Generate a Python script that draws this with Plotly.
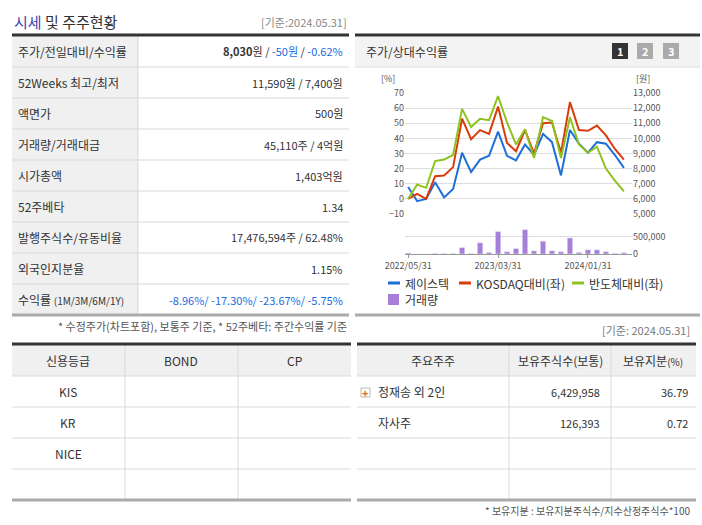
import plotly.graph_objects as go

W, H = 702, 525
FONT = "Noto Sans CJK KR"

# chart data (monthly, 2022/05 ~ 2024/05)
months = ["2022/05/31", "2022/06/30", "2022/07/31", "2022/08/31", "2022/09/30", "2022/10/31",
          "2022/11/30", "2022/12/31", "2023/01/31", "2023/02/28", "2023/03/31", "2023/04/30",
          "2023/05/31", "2023/06/30", "2023/07/31", "2023/08/31", "2023/09/30", "2023/10/31",
          "2023/11/30", "2023/12/31", "2024/01/31", "2024/02/29", "2024/03/31", "2024/04/30",
          "2024/05/31"]
jstek = [7.8, -1.5, 0, 11, 1, 6.5, 30.5, 17.7, 26, 28.5, 44.5, 28.5, 25.5, 36, 29, 43,
         37.5, 15.5, 45.5, 36.5, 30.5, 37.5, 36.5, 29, 20.5]
kosdaq = [0, 3.3, 0, 15, 15.5, 21, 53, 39.5, 45.5, 43, 61, 37, 31.5, 45.5, 30, 50,
          50.5, 30.5, 64, 45.5, 45, 48.5, 42, 33, 26]
semi = [0, 9.5, 7.3, 25, 26, 29, 59.5, 47.5, 53, 52, 68, 50.5, 36, 46, 27, 54,
        51.5, 27, 54, 36, 30.5, 34.5, 20, 12, 5]
volume = [28000, 0, 0, 15000, 15000, 15000, 189000, 15000, 330000, 47000, 660000, 66000,
          160000, 717000, 94000, 377000, 94000, 66000, 472000, 47000, 123000, 123000,
          66000, 19000, 38000]
date_ticks = ["2022/05/31", "2023/03/31", "2024/01/31"]

# table data
info_labels = ["주가/전일대비/수익률", "52Weeks 최고/최저", "액면가", "거래량/거래대금", "시가총액",
               "52주베타", "발행주식수/유동비율", "외국인지분율",
               "수익률 <span style='font-size:10px'>(1M/3M/6M/1Y)</span>"]
info_values = ["<b>8,030</b>원 / <span style='color:#1a6be0'>-50원</span> / <span style='color:#1a6be0'>-0.62%</span>",
               "11,590원 / 7,400원", "500원", "45,110주 / 4억원", "1,403억원", "1.34",
               "17,476,594주 / 62.48%", "1.15%",
               "<span style='color:#1a6be0'>-8.96%/ -17.30%/ -23.67%/ -5.75%</span>"]
credit_cols = ["신용등급", "BOND", "CP"]
credit_rows = ["KIS", "KR", "NICE", ""]
holder_cols = ["주요주주", "보유주식수(보통)", "보유지분<span style='font-size:10px'>(%)</span>"]
holders = ["정재송 외 2인", "자사주"]
holder_shares = ["6,429,958", "126,393"]
holder_pct = ["36.79", "0.72"]


def X(px):
    return px / W


def Y(py):
    return 1 - py / H


shapes = []
ann = []


def line(x0, y0, x1, y1, color="#d9d9d9", width=1):
    shapes.append(dict(type="line", xref="paper", yref="paper", x0=X(x0), y0=Y(y0),
                       x1=X(x1), y1=Y(y1), line=dict(color=color, width=width)))


def rect(x0, y0, x1, y1, fill, lc=None):
    shapes.append(dict(type="rect", xref="paper", yref="paper", x0=X(x0), y0=Y(y0),
                       x1=X(x1), y1=Y(y1), fillcolor=fill, layer="below",
                       line=dict(width=1 if lc else 0, color=lc or fill)))


def text(x, y, s, size=12, color="#333", anchor="left"):
    ann.append(dict(xref="paper", yref="paper", x=X(x), y=Y(y), text=s, showarrow=False,
                    xanchor=anchor, yanchor="middle", font=dict(family=FONT, size=size, color=color)))


# ---- left info table
text(12, 21, "<span style='color:#3b48b0'>시세</span> 및 주주현황", size=15, color="#333")
text(349, 22, "[기준:2024.05.31]", size=11, color="#888", anchor="right")
rect(12, 36, 138, 315, "#f0f0f0")
bounds = [35, 67, 98, 129, 160, 191, 222, 253, 284, 315]
for b in bounds[1:-1]:
    line(12, b, 349, b)
line(138, 36, 138, 315)
line(12, 35, 349, 35, "#333", 3)
line(12, 315, 349, 315, "#aaa", 3)
for i, (lab, val) in enumerate(zip(info_labels, info_values)):
    yc = (bounds[i] + bounds[i + 1]) / 2
    text(16, yc, lab, size=12)
    text(345, yc, val, size=11, anchor="right")
text(349, 326, "* 수정주가(차트포함), 보통주 기준, * 52주베타: 주간수익률 기준", size=11, color="#555", anchor="right")

# ---- chart panel
line(355, 35, 700, 35, "#333", 3)
rect(355, 37, 700, 67, "#f3f3f3")
line(355, 67, 700, 67, "#ddd")
line(355, 315, 700, 315, "#aaa", 3)
text(364, 51, "주가/상대수익률", size=12)
for k, (cx, fill) in enumerate([(620, "#333"), (645, "#aaa"), (671, "#aaa")]):
    rect(cx - 8, 43, cx + 8, 59, fill)
    text(cx, 51, "<b>%d</b>" % (k + 1), size=11, color="white", anchor="center")
text(397, 79, "[%]", size=9, color="#555", anchor="right")
text(652, 79, "[원]", size=9, color="#555", anchor="right")

# legend
for lx, ly, col, lab in [(388, 283, "#1f6fd6", "제이스텍"), (459, 283, "#d93b0d", "KOSDAQ대비(좌)"),
                          (572, 283, "#8dc21f", "반도체대비(좌)")]:
    line(lx, ly, lx + 12, ly, col, 3)
    text(lx + 15, ly, lab, size=12, color="#333")
rect(388, 294, 399, 305, "#a77fd8")
text(403, 299, "거래량", size=12)

# ---- bottom tables
text(692, 330, "[기준: 2024.05.31]", size=11, color="#777", anchor="right")
rows_b = [344, 376, 407, 438, 469, 500]
for x0, x1, cols in [(12, 351, [125, 238]), (357, 696, [509, 611])]:
    rect(x0, 345, x1, 376, "#f0f0f0")
    for b in rows_b[1:-1]:
        line(x0, b, x1, b)
    for c in cols:
        line(c, 345, c, 500)
    line(x0, 344, x1, 344, "#333", 3)
    line(x0, 500, x1, 500, "#aaa", 3)

centers = [68, 181, 294]
for cx, s in zip(centers, credit_cols):
    text(cx, 360, s, size=12, anchor="center")
for i, s in enumerate(credit_rows):
    text(68, (rows_b[i + 1] + rows_b[i + 2]) / 2, s, size=12, anchor="center")

for cx, s in zip([433, 560, 653], holder_cols):
    text(cx, 360, s, size=12, anchor="center")
for i in range(len(holders)):
    yc = (rows_b[i + 1] + rows_b[i + 2]) / 2
    text(376, yc, holders[i], size=12)
    text(602, yc, holder_shares[i], size=11, anchor="right")
    text(690, yc, holder_pct[i], size=11, anchor="right")
rect(361, 388, 370, 397, "#fff", "#bbb")
text(365.5, 392.5, "<b>+</b>", size=11, color="#f06010", anchor="center")
text(692, 510, "* 보유지분 : 보유지분주식수/지수산정주식수*100", size=10, color="#555", anchor="right")

# ---- chart traces
fig = go.Figure()
fig.add_trace(go.Scatter(x=months, y=jstek, mode="lines", line=dict(color="#1f6fd6", width=2)))
fig.add_trace(go.Scatter(x=months, y=kosdaq, mode="lines", line=dict(color="#d93b0d", width=2)))
fig.add_trace(go.Scatter(x=months, y=semi, mode="lines", line=dict(color="#8dc21f", width=2)))
fig.add_trace(go.Bar(x=months, y=volume, marker_color="#a77fd8", width=0.6, xaxis="x2", yaxis="y3"))
# empty trace so the price axis (right) is drawn
fig.add_trace(go.Scatter(x=months, y=[None] * len(months), yaxis="y2", hoverinfo="skip"))

xr = [-0.35, 24.9]
tickfont = dict(family=FONT, size=9, color="#555")
fig.update_layout(
    width=W, height=H, margin=dict(l=0, r=0, t=0, b=0),
    paper_bgcolor="white", plot_bgcolor="rgba(0,0,0,0)", showlegend=False,
    shapes=shapes, annotations=ann,
    xaxis=dict(domain=[X(405), X(632)], type="category", range=xr, showticklabels=False,
               showgrid=False, zeroline=False, anchor="y", automargin=False),
    yaxis=dict(domain=[Y(214), Y(93)], range=[-10, 70], dtick=10, gridcolor="#ddd",
               zeroline=False, tickfont=tickfont, ticks="", automargin=False),
    yaxis2=dict(overlaying="y", side="right", range=[5000, 13000], dtick=1000,
                tickformat=",", showgrid=False, tickfont=tickfont, anchor="x", automargin=False),
    xaxis2=dict(domain=[X(405), X(632)], type="category", range=xr, anchor="y3",
                tickvals=date_ticks, ticktext=date_ticks, tickfont=tickfont,
                showline=True, linecolor="#999", ticks="outside", ticklen=3, tickcolor="#999",
                showgrid=False, automargin=False),
    yaxis3=dict(domain=[Y(254), Y(229)], range=[0, 735000], side="right", anchor="x2",
                tickvals=[0, 500000], ticktext=["0", "500,000"], gridcolor="#ddd",
                zeroline=False, tickfont=tickfont, automargin=False),
)
fig.write_html("out.html", config={"displayModeBar": False},
               post_script="document.body.style.margin='0';")
